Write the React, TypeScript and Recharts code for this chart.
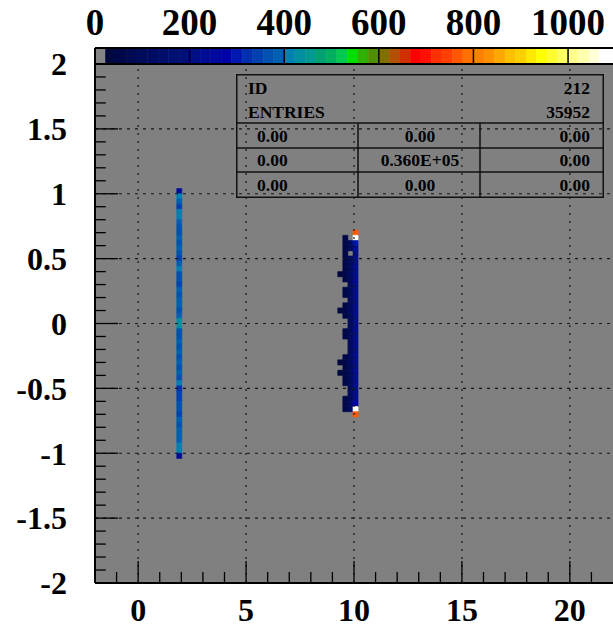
import React from 'react';
import { ComposedChart, XAxis, YAxis, ReferenceArea, ReferenceLine } from 'recharts';

const FONT = '"Liberation Serif", "Times New Roman", Times, serif';

// axes
const xTicks = [0, 5, 10, 15, 20];
const yTicks = [-2, -1.5, -1, -0.5, 0, 0.5, 1, 1.5, 2];
const scaleTicks = [0, 200, 400, 600, 800, 1000];
const scaleMax = 1095;

// colour scale, one entry per 1000/45 of content
const palette = [
  '#848484', '#000840', '#00084a', '#000a52', '#000c5a', '#000c62', '#000e6a', '#000f72', '#000f78',
  '#000f86', '#000c94', '#0008a0', '#0000a8', '#0018b0', '#0030b0', '#0040b0', '#0050b0', '#0060b0',
  '#0080b0', '#0090a0', '#009890', '#00a070', '#00b060', '#00c850', '#00e000', '#30b000', '#509000',
  '#807000', '#b05000', '#d03000', '#ff0000', '#ff1000', '#ff3000', '#ff4000', '#ff5800', '#ff7000',
  '#ff8000', '#ff9000', '#ffa800', '#ffc000', '#ffd000', '#ffe800', '#ffff00', '#ffff30', '#ffff60',
  '#ffff90', '#ffffb0', '#ffffd8', '#ffffff',
];
const step = 1000 / 45;

// histogram bins
const binW = 0.235;
const binH = 0.04;

// band at x ~ 2 (top to bottom)
const bandX = 1.905;
const bandTop = 1.04;
const bandValues = [
  230, 415, 385, 345, 410, 405, 395, 370, 365, 385, 360, 380, 362, 345, 388, 408, 368, 360,
  350, 386, 366, 384, 390, 362, 385, 425, 435, 370, 362, 380, 372, 392, 362, 385, 374, 380,
  360, 404, 322, 352, 345, 370, 364, 340, 392, 370, 388, 378, 384, 402, 410, 232,
];

// peak at x ~ 10, four columns (top to bottom)
const peakX = [9.365, 9.6, 9.835, 10.07];
const peakTop = 0.72;
const peakA = [
  0, 0, 0, 0, 0, 0, 0, 0, 30, 0, 0, 0, 0, 0, 0, 32, 0, 0,
  0, 0, 0, 0, 0, 0, 0, 28, 0, 34, 0, 0, 0, 0, 0, 0, 0, 0,
];
const peakB = [
  0, 45, 50, 55, 48, 52, 60, 46, 58, 50, 0, 55, 48, 0, 52, 60, 50, 0,
  0, 46, 55, 0, 0, 0, 50, 58, 48, 56, 52, 47, 0, 0, 50, 55, 60, 0,
];
const peakC = [
  0, 0, 95, 110, 0, 100, 90, 105, 115, 95, 100, 108, 92, 98, 104, 112, 96, 90,
  100, 106, 110, 94, 98, 102, 108, 114, 96, 110, 100, 92, 98, 104, 106, 112, 118, 0,
];
const peakD = [
  765, 1080, 300, 225, 215, 220, 210, 225, 215, 230, 220, 210, 225, 215, 220, 230, 215, 210,
  225, 220, 215, 230, 210, 220, 225, 215, 220, 230, 210, 225, 215, 220, 230, 280, 1080, 765,
];

const colorOf = (v: number) => palette[Math.min(palette.length - 1, Math.floor(v / step))];

type Cell = { x1: number; x2: number; y1: number; y2: number; fill: string };
const cells: Cell[] = [];
bandValues.forEach((v, i) => {
  if (v > 0)
    cells.push({
      x1: bandX - binW / 2, x2: bandX + binW / 2,
      y1: bandTop - (i + 1) * binH, y2: bandTop - i * binH, fill: colorOf(v),
    });
});
[peakA, peakB, peakC, peakD].forEach((col, c) => {
  col.forEach((v, i) => {
    if (v > 0)
      cells.push({
        x1: peakX[c] - binW / 2, x2: peakX[c] + binW / 2,
        y1: peakTop - (i + 1) * binH, y2: peakTop - i * binH, fill: colorOf(v),
      });
  });
});

// inward tick marks
const xMinor: number[] = [];
for (let v = -1; v <= 21; v++) xMinor.push(v);
const yMinor: number[] = [];
for (let k = -19; k <= 19; k++) yMinor.push(k / 10);

const tickStyle = { fill: '#000', fontSize: 32, fontWeight: 'bold', fontFamily: FONT };
const scaleTickStyle = { ...tickStyle, fontSize: 37 };

function StatsBox() {
  const t = { fontFamily: FONT, fontWeight: 'bold' as const, fontSize: 17.5, fill: '#000' };
  const rows = [
    ['0.00', '0.00', '0.00'],
    ['0.00', '0.360E+05', '0.00'],
    ['0.00', '0.00', '0.00'],
  ];
  const base = [68, 92, 117];
  return (
    <svg width={368} height={124} style={{ position: 'absolute', left: 236, top: 74 }}>
      <rect x={0.75} y={0.75} width={366.5} height={122.5} fill="none" stroke="#111" strokeWidth={1.5} />
      <line x1={0} x2={368} y1={49} y2={49} stroke="#111" strokeWidth={1.5} />
      <line x1={0} x2={368} y1={74} y2={74} stroke="#111" strokeWidth={1.5} />
      <line x1={0} x2={368} y1={98} y2={98} stroke="#111" strokeWidth={1.5} />
      <line x1={122} x2={122} y1={49} y2={124} stroke="#111" strokeWidth={1.5} />
      <line x1={244} x2={244} y1={49} y2={124} stroke="#111" strokeWidth={1.5} />
      <text x={12} y={20} {...t}>ID</text>
      <text x={354} y={20} textAnchor="end" {...t}>212</text>
      <text x={12} y={44} {...t}>ENTRIES</text>
      <text x={354} y={44} textAnchor="end" {...t}>35952</text>
      {rows.map((r, i) => (
        <g key={i}>
          <text x={21} y={base[i]} {...t}>{r[0]}</text>
          <text x={184} y={base[i]} textAnchor="middle" {...t}>{r[1]}</text>
          <text x={354} y={base[i]} textAnchor="end" {...t}>{r[2]}</text>
        </g>
      ))}
    </svg>
  );
}

export default function App() {
  return (
    <div style={{ position: 'absolute', left: 0, top: 0, width: 613, height: 627, background: '#fff' }}>
      <div style={{ position: 'absolute', left: 0, top: 0 }}>
        <ComposedChart width={613} height={627} margin={{ top: 64, right: 0, bottom: 0, left: 0 }}>
          <XAxis
            type="number"
            dataKey="x"
            domain={[-2, 22]}
            ticks={xTicks}
            interval={0}
            allowDataOverflow
            height={44}
            axisLine={false}
            tickLine={false}
            tickSize={0}
            tickMargin={15}
            tick={tickStyle}
          />
          <YAxis
            type="number"
            dataKey="y"
            domain={[-2, 2]}
            ticks={yTicks}
            interval={0}
            allowDataOverflow
            width={95}
            axisLine={false}
            tickLine={false}
            tickSize={0}
            tickMargin={28}
            tick={tickStyle}
          />
          <ReferenceArea x1={-2} x2={22} y1={-2} y2={2} fill="#808080" fillOpacity={1} />
          {cells.map((c, i) => (
            <ReferenceArea
              key={`c${i}`}
              x1={c.x1}
              x2={c.x2}
              y1={c.y1}
              y2={c.y2}
              fill={c.fill}
              fillOpacity={1}
              stroke={c.fill}
              strokeWidth={0.6}
            />
          ))}
          {xTicks.map((v) => (
            <ReferenceLine key={`gx${v}`} x={v} stroke="#151515" strokeWidth={1.2} strokeDasharray="2 6" />
          ))}
          {yTicks.slice(1, -1).map((v) => (
            <ReferenceLine key={`gy${v}`} y={v} stroke="#151515" strokeWidth={1.2} strokeDasharray="3 5" />
          ))}
          {xMinor.map((v) => (
            <ReferenceLine
              key={`tx${v}`}
              segment={[{ x: v, y: -2 }, { x: v, y: v % 5 === 0 ? -1.83 : -1.915 }]}
              stroke="#000"
              strokeWidth={1.3}
            />
          ))}
          {yMinor.map((v) => (
            <ReferenceLine
              key={`ty${v}`}
              segment={[{ x: -2, y: v }, { x: Math.abs(v * 2 - Math.round(v * 2)) < 1e-6 ? -0.93 : -1.5, y: v }]}
              stroke="#000"
              strokeWidth={1.3}
            />
          ))}
          <ReferenceLine x={-2} stroke="#000" strokeWidth={2} />
          <ReferenceLine y={-2} stroke="#000" strokeWidth={2} />
          <ReferenceLine y={2} stroke="#000" strokeWidth={2} />
        </ComposedChart>
      </div>
      <div style={{ position: 'absolute', left: 0, top: 0 }}>
        <ComposedChart width={613} height={65} margin={{ top: 0, right: 0, bottom: 1, left: 95 }}>
          <XAxis
            type="number"
            dataKey="v"
            orientation="top"
            domain={[0, scaleMax]}
            ticks={scaleTicks}
            interval={0}
            allowDataOverflow
            height={48}
            axisLine={false}
            tickLine={false}
            tickSize={0}
            tickMargin={13}
            tick={scaleTickStyle}
          />
          <YAxis type="number" dataKey="w" domain={[0, 1]} allowDataOverflow hide />
          {palette.map((c, i) => (
            <ReferenceArea
              key={`p${i}`}
              x1={i * step}
              x2={i === palette.length - 1 ? scaleMax : (i + 1) * step}
              y1={0}
              y2={1}
              fill={c}
              fillOpacity={1}
              stroke={c}
              strokeWidth={0.6}
            />
          ))}
          {scaleTicks.slice(1).map((v) => (
            <ReferenceLine key={`d${v}`} x={v} stroke="#000" strokeWidth={1.5} />
          ))}
          <ReferenceLine x={0} stroke="#000" strokeWidth={2} />
          <ReferenceLine y={1} stroke="#000" strokeWidth={2} />
          <ReferenceLine y={0} stroke="#000" strokeWidth={2} />
        </ComposedChart>
      </div>
      <StatsBox />
    </div>
  );
}
